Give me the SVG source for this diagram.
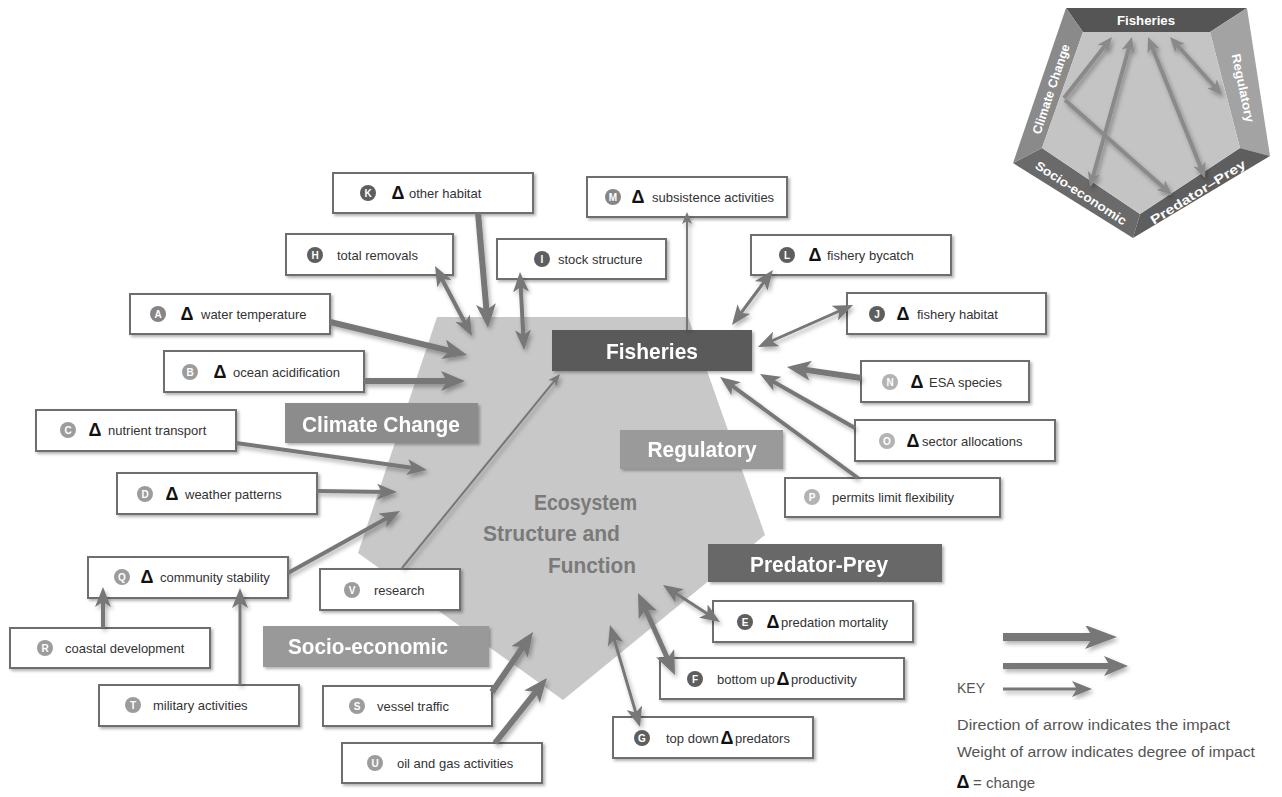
<svg xmlns="http://www.w3.org/2000/svg" width="1282" height="797" viewBox="0 0 1282 797">
<style>
.bx{fill:#fff;stroke:#6e6e6e;stroke-width:2}
.t{font-family:"Liberation Sans",Arial,sans-serif;font-size:13px;fill:#333}
.d{font-family:"Liberation Sans",Arial,sans-serif;font-size:18px;font-weight:bold;fill:#111;text-anchor:middle}
.bl{font-family:"Liberation Sans",Arial,sans-serif;font-size:10px;font-weight:bold;fill:#fff;text-anchor:middle}
.dk{fill:#5e5e5e}.md{fill:#858585}.lt{fill:#9c9c9c}.vl{fill:#b3b3b3}
.cat{font-family:"Liberation Sans",Arial,sans-serif;font-size:22px;font-weight:bold;fill:#fff;text-anchor:middle}
.ctr{font-family:"Liberation Sans",Arial,sans-serif;font-size:22px;font-weight:bold;fill:#7a7a7a}
.ln{stroke:#777;fill:none;stroke-linecap:butt}
.w6{stroke-width:6}.w5{stroke-width:5}.w4{stroke-width:4}.w3{stroke-width:3}.w2{stroke-width:2}
.pl{stroke:#8a8a8a;stroke-width:4;fill:none}
.pt{font-family:"Liberation Sans",Arial,sans-serif;font-size:12.5px;font-weight:bold;fill:#fff;text-anchor:middle}
.key{font-family:"Liberation Sans",Arial,sans-serif;font-size:15px;fill:#555}
</style>
<defs>
<filter id="sh" x="-10%" y="-20%" width="130%" height="150%"><feDropShadow dx="2" dy="2" stdDeviation="1.5" flood-color="#000" flood-opacity="0.3"/></filter>
<filter id="ash" x="-20%" y="-20%" width="140%" height="140%"><feDropShadow dx="2" dy="3" stdDeviation="2" flood-color="#000" flood-opacity="0.3"/></filter>
<marker id="hk" viewBox="0 0 32 24" markerWidth="32" markerHeight="24" refX="16" refY="12" orient="auto-start-reverse" markerUnits="userSpaceOnUse"><path d="M0,0 L32,12 L0,24 L8,12 z" fill="#777"/></marker>
<marker id="hb" viewBox="0 0 24 20" markerWidth="24" markerHeight="20" refX="10" refY="10" orient="auto-start-reverse" markerUnits="userSpaceOnUse"><path d="M0,0 L24,10 L0,20 L6,10 z" fill="#777"/></marker>
<marker id="hm" viewBox="0 0 20 16" markerWidth="20" markerHeight="16" refX="10" refY="8" orient="auto-start-reverse" markerUnits="userSpaceOnUse"><path d="M0,0 L20,8 L0,16 L5,8 z" fill="#777"/></marker>
<marker id="hs" viewBox="0 0 12 10" markerWidth="12" markerHeight="10" refX="6" refY="5" orient="auto-start-reverse" markerUnits="userSpaceOnUse"><path d="M0,0 L12,5 L0,10 L3,5 z" fill="#777"/></marker>
<marker id="hp" viewBox="0 0 15 13" markerWidth="15" markerHeight="13" refX="7" refY="6.5" orient="auto-start-reverse" markerUnits="userSpaceOnUse"><path d="M0,0 L15,6.5 L0,13 L4,6.5 z" fill="#8a8a8a"/></marker>
</defs>
<rect width="1282" height="797" fill="#fff"/>

<g id="ecosystem">
<polygon points="437,317 688,317 765,535 563,700 358,553" fill="#c8c8c8"/>
<text class="ctr" x="534" y="510" textLength="103" lengthAdjust="spacingAndGlyphs">Ecosystem</text>
<text class="ctr" x="483" y="541" textLength="137" lengthAdjust="spacingAndGlyphs">Structure and</text>
<text class="ctr" x="548" y="573" textLength="88" lengthAdjust="spacingAndGlyphs">Function</text>
</g>

<g id="mini-pentagon">
<polygon points="1066,8 1247,8 1210,32 1083,32" fill="#555"/>
<polygon points="1247,8 1270,156 1240,148 1210,32" fill="#a3a3a3"/>
<polygon points="1270,156 1133,238 1140,214 1240,148" fill="#5e5e5e"/>
<polygon points="1133,238 1013,163 1042,148 1140,214" fill="#6a6a6a"/>
<polygon points="1013,163 1066,8 1083,32 1042,148" fill="#8a8a8a"/>
<polygon points="1083,32 1210,32 1240,148 1140,214 1042,148" fill="#c4c4c4"/>
<text class="pt" x="1146" y="25" textLength="58" lengthAdjust="spacingAndGlyphs">Fisheries</text>
<text class="pt" transform="translate(1051,89) rotate(-71.5)" dy="0.35em" textLength="94" lengthAdjust="spacingAndGlyphs">Climate Change</text>
<text class="pt" transform="translate(1243,88) rotate(78)" dy="0.35em" textLength="70" lengthAdjust="spacingAndGlyphs">Regulatory</text>
<text class="pt" transform="translate(1081,193) rotate(33)" dy="0.35em" textLength="106" lengthAdjust="spacingAndGlyphs">Socio-economic</text>
<text class="pt" transform="translate(1198,192) rotate(-32)" dy="0.35em" textLength="110" lengthAdjust="spacingAndGlyphs">Predator–Prey</text>
<g id="mini-connectors" filter="url(#ash)">
<path class="pl" d="M1064,98 L1107,43.3" marker-end="url(#hp)"/>
<path class="pl" d="M1065,100 L1166,189.7" marker-end="url(#hp)"/>
<path class="pl" d="M1092.2,179.3 L1129.8,44.7" marker-start="url(#hp)" marker-end="url(#hp)"/>
<path class="pl" d="M1151,44.4 L1202,170.6" marker-start="url(#hp)" marker-end="url(#hp)"/>
<path class="pl" d="M1175.3,43 L1216.7,89" marker-start="url(#hp)" marker-end="url(#hp)"/>
</g>
</g>

<g id="cat-climate" filter="url(#sh)"><rect x="285" y="403" width="193" height="40" fill="#8c8c8c"/><text class="cat" x="381" y="432" textLength="158" lengthAdjust="spacingAndGlyphs">Climate Change</text></g>
<g id="cat-regulatory" filter="url(#sh)"><rect x="620" y="430" width="163" height="39" fill="#9a9a9a"/><text class="cat" x="702" y="457" textLength="109" lengthAdjust="spacingAndGlyphs">Regulatory</text></g>
<g id="cat-predator" filter="url(#sh)"><rect x="708" y="544" width="234" height="38" fill="#676767"/><text class="cat" x="819" y="572" textLength="138" lengthAdjust="spacingAndGlyphs">Predator-Prey</text></g>
<g id="cat-socio" filter="url(#sh)"><rect x="263" y="626" width="226" height="41" fill="#999"/><text class="cat" x="368" y="654" textLength="160" lengthAdjust="spacingAndGlyphs">Socio-economic</text></g>
<g id="fisheries" filter="url(#sh)"><rect x="552" y="330" width="200" height="41" fill="#5a5a5a"/><text class="cat" x="652" y="359" font-size="23" textLength="92" lengthAdjust="spacingAndGlyphs">Fisheries</text></g>

<g id="node-K"><rect class="bx" x="333" y="173" width="200" height="40" filter="url(#sh)"/><circle class="dk" cx="368" cy="193" r="8"/><text class="bl" x="368" y="196.5">K</text><text class="d" x="398" y="199">Δ</text><text class="t" x="409" y="198">other habitat</text></g>
<g id="node-H"><rect class="bx" x="286" y="234" width="167" height="41" filter="url(#sh)"/><circle class="dk" cx="315" cy="255" r="8"/><text class="bl" x="315" y="258.5">H</text><text class="t" x="337" y="260">total removals</text></g>
<g id="node-A"><rect class="bx" x="130" y="294" width="200" height="40" filter="url(#sh)"/><circle class="md" cx="158" cy="314" r="8"/><text class="bl" x="158" y="317.5">A</text><text class="d" x="187" y="320">Δ</text><text class="t" x="201" y="319">water temperature</text></g>
<g id="node-B"><rect class="bx" x="164" y="351" width="200" height="41" filter="url(#sh)"/><circle class="lt" cx="190" cy="372" r="8"/><text class="bl" x="190" y="375.5">B</text><text class="d" x="220" y="378">Δ</text><text class="t" x="233" y="377">ocean acidification</text></g>
<g id="node-M"><rect class="bx" x="587" y="177" width="200" height="40" filter="url(#sh)"/><circle class="md" cx="613" cy="197" r="8"/><text class="bl" x="613" y="200.5">M</text><text class="d" x="638" y="203">Δ</text><text class="t" x="652" y="202">subsistence activities</text></g>
<g id="node-I"><rect class="bx" x="497" y="239" width="169" height="40" filter="url(#sh)"/><circle class="dk" cx="542" cy="259" r="8"/><text class="bl" x="542" y="262.5">I</text><text class="t" x="558" y="264">stock structure</text></g>
<g id="node-L"><rect class="bx" x="751" y="235" width="200" height="40" filter="url(#sh)"/><circle class="dk" cx="787" cy="255" r="8"/><text class="bl" x="787" y="258.5">L</text><text class="d" x="815" y="261">Δ</text><text class="t" x="827" y="260">fishery bycatch</text></g>
<g id="node-J"><rect class="bx" x="847" y="293" width="199" height="41" filter="url(#sh)"/><circle class="dk" cx="877" cy="314" r="8"/><text class="bl" x="877" y="317.5">J</text><text class="d" x="903" y="320">Δ</text><text class="t" x="917" y="319">fishery habitat</text></g>
<g id="node-N"><rect class="bx" x="861" y="361" width="168" height="41" filter="url(#sh)"/><circle class="vl" cx="890" cy="382" r="8"/><text class="bl" x="890" y="385.5">N</text><text class="d" x="917" y="388">Δ</text><text class="t" x="929" y="387">ESA species</text></g>
<g id="node-O"><rect class="bx" x="855" y="420" width="200" height="41" filter="url(#sh)"/><circle class="vl" cx="887" cy="441" r="8"/><text class="bl" x="887" y="444.5">O</text><text class="d" x="913" y="447">Δ</text><text class="t" x="922" y="446">sector allocations</text></g>
<g id="node-P"><rect class="bx" x="785" y="478" width="215" height="39" filter="url(#sh)"/><circle class="vl" cx="812" cy="497" r="8"/><text class="bl" x="812" y="500.5">P</text><text class="t" x="832" y="502">permits limit flexibility</text></g>
<g id="node-C"><rect class="bx" x="36" y="410" width="200" height="41" filter="url(#sh)"/><circle class="lt" cx="68" cy="430" r="8"/><text class="bl" x="68" y="433.5">C</text><text class="d" x="95" y="436">Δ</text><text class="t" x="108" y="435">nutrient transport</text></g>
<g id="node-D"><rect class="bx" x="117" y="473" width="200" height="41" filter="url(#sh)"/><circle class="lt" cx="145" cy="494" r="8"/><text class="bl" x="145" y="497.5">D</text><text class="d" x="172" y="500">Δ</text><text class="t" x="185" y="499">weather patterns</text></g>
<g id="node-Q"><rect class="bx" x="88" y="557" width="200" height="41" filter="url(#sh)"/><circle class="lt" cx="122" cy="577" r="8"/><text class="bl" x="122" y="580.5">Q</text><text class="d" x="147" y="583">Δ</text><text class="t" x="160" y="582">community stability</text></g>
<g id="node-R"><rect class="bx" x="10" y="628" width="200" height="40" filter="url(#sh)"/><circle class="lt" cx="45" cy="648" r="8"/><text class="bl" x="45" y="651.5">R</text><text class="t" x="65" y="653">coastal development</text></g>
<g id="node-T"><rect class="bx" x="99" y="685" width="200" height="41" filter="url(#sh)"/><circle class="lt" cx="133" cy="705" r="8"/><text class="bl" x="133" y="708.5">T</text><text class="t" x="153" y="710">military activities</text></g>
<g id="node-V"><rect class="bx" x="320" y="569" width="140" height="41" filter="url(#sh)"/><circle class="lt" cx="352" cy="590" r="8"/><text class="bl" x="352" y="593.5">V</text><text class="t" x="374" y="595">research</text></g>
<g id="node-S"><rect class="bx" x="323" y="686" width="169" height="40" filter="url(#sh)"/><circle class="lt" cx="357" cy="706" r="8"/><text class="bl" x="357" y="709.5">S</text><text class="t" x="377" y="711">vessel traffic</text></g>
<g id="node-U"><rect class="bx" x="342" y="743" width="200" height="40" filter="url(#sh)"/><circle class="lt" cx="375" cy="763" r="8"/><text class="bl" x="375" y="766.5">U</text><text class="t" x="397" y="768">oil and gas activities</text></g>
<g id="node-E"><rect class="bx" x="713" y="601" width="200" height="41" filter="url(#sh)"/><circle class="dk" cx="745" cy="622" r="8"/><text class="bl" x="745" y="625.5">E</text><text class="d" x="773" y="628">Δ</text><text class="t" x="781" y="627">predation mortality</text></g>
<g id="node-F"><rect class="bx" x="660" y="658" width="244" height="41" filter="url(#sh)"/><circle class="dk" cx="695" cy="679" r="8"/><text class="bl" x="695" y="682.5">F</text><text class="t" x="717" y="684">bottom up</text><text class="d" x="783" y="685">Δ</text><text class="t" x="791" y="684">productivity</text></g>
<g id="node-G"><rect class="bx" x="613" y="717" width="200" height="41" filter="url(#sh)"/><circle class="dk" cx="642" cy="738" r="8"/><text class="bl" x="642" y="741.5">G</text><text class="t" x="666" y="743">top down</text><text class="d" x="727" y="744">Δ</text><text class="t" x="735" y="743">predators</text></g>

<g id="connectors" filter="url(#ash)">
<path class="ln w6" d="M478,213 L486.8,314" marker-end="url(#hb)"/>
<path class="ln w4" d="M439.7,274.8 L467.3,327.2" marker-start="url(#hm)" marker-end="url(#hm)"/>
<path class="ln w4" d="M520.5,282 L523.5,340" marker-start="url(#hm)" marker-end="url(#hm)"/>
<path class="ln w6" d="M330,322 L453.4,351.7" marker-end="url(#hb)"/>
<path class="ln w6" d="M364,381 L451,381" marker-end="url(#hb)"/>
<path class="ln w2" d="M687,330 L687,218" marker-end="url(#hs)"/>
<path class="ln w3" d="M738,317 L767,278" marker-start="url(#hm)" marker-end="url(#hm)"/>
<path class="ln w3" d="M767.1,343 L843.9,309" marker-start="url(#hm)" marker-end="url(#hm)"/>
<path class="ln w6" d="M861,378 L800.8,369.1" marker-end="url(#hb)"/>
<path class="ln w4" d="M855,428 L768.7,378.9" marker-end="url(#hm)"/>
<path class="ln w4" d="M858,478 L728.1,382.9" marker-end="url(#hm)"/>
<path class="ln w4" d="M236,443 L417.1,468.6" marker-end="url(#hm)"/>
<path class="ln w4" d="M317,491 L387,491.9" marker-end="url(#hm)"/>
<path class="ln w4" d="M288,573 L391.2,515.8" marker-end="url(#hm)"/>
<path class="ln w2" d="M402,568 L556.2,378.6" marker-end="url(#hs)"/>
<path class="ln w4" d="M103,628 L103,597" marker-end="url(#hm)"/>
<path class="ln w3" d="M240,685 L240,598" marker-end="url(#hm)"/>
<path class="ln w6" d="M492,692 L525.1,643.6" marker-end="url(#hb)"/>
<path class="ln w6" d="M495,743 L538.2,688.9" marker-end="url(#hb)"/>
<path class="ln w3" d="M671.4,590.4 L711.6,616.6" marker-start="url(#hm)" marker-end="url(#hm)"/>
<path class="ln w5" d="M643.8,605.8 L669.2,662.2" marker-start="url(#hb)" marker-end="url(#hb)"/>
<path class="ln w3" d="M612.8,634.6 L637.2,717.4" marker-start="url(#hm)" marker-end="url(#hm)"/>
</g>

<g id="key">
<g filter="url(#ash)">
<path class="ln" stroke-width="8" d="M1003,637 L1101,637" marker-end="url(#hk)"/>
<path class="ln w6" d="M1003,666 L1114,666" marker-end="url(#hb)"/>
<path class="ln w3" d="M1003,689 L1082,689" marker-end="url(#hm)"/>
</g>
<text class="key" x="957" y="693" textLength="28" lengthAdjust="spacingAndGlyphs">KEY</text>
<text class="key" x="957" y="730" textLength="273" lengthAdjust="spacingAndGlyphs">Direction of arrow indicates the impact</text>
<text class="key" x="957" y="757" textLength="298" lengthAdjust="spacingAndGlyphs">Weight of arrow indicates degree of impact</text>
<text class="d" x="963" y="788" font-size="19">Δ</text>
<text class="key" x="973" y="788">= change</text>
</g>
</svg>
